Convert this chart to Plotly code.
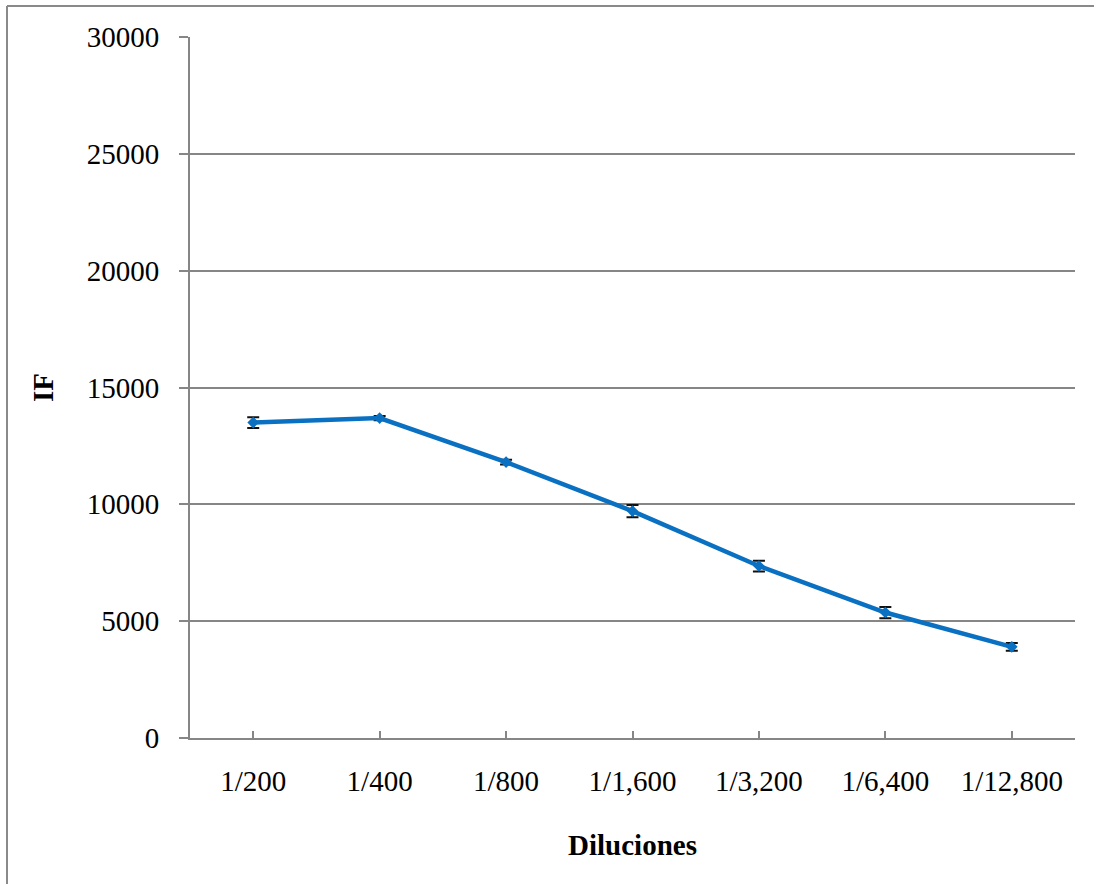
import plotly.graph_objects as go

# Dilution series and mean fluorescence intensity (IF) with error margins
diluciones = ["1/200", "1/400", "1/800", "1/1,600", "1/3,200", "1/6,400", "1/12,800"]
if_media = [13500, 13690, 11810, 9710, 7360, 5370, 3900]
if_error = [230, 90, 100, 260, 230, 240, 170]

y_ticks = [0, 5000, 10000, 15000, 20000, 25000, 30000]

W, H = 1094, 884
L, R, T, B = 190, 19, 37, 146

LINE_BLUE = "#0a70c2"
GRID = "#868686"
FONT = "Liberation Serif, DejaVu Serif, serif"
FS = 29

fig = go.Figure()

fig.add_trace(go.Scatter(
    x=diluciones,
    y=if_media,
    mode="lines+markers",
    line=dict(color=LINE_BLUE, width=4.5),
    marker=dict(symbol="diamond", size=9, color=LINE_BLUE),
    error_y=dict(type="data", array=if_error, visible=True,
                 color="#111111", thickness=2, width=6),
    showlegend=False,
))

# outer chart frame (top and left edges; the rest runs off the page)
pw = W - L - R
ph = H - T - B
fx = (7 - L) / pw
fy = (H - B - 6) / ph
fig.add_shape(type="line", xref="paper", yref="paper",
              x0=fx, x1=1.5, y0=fy, y1=fy,
              line=dict(color="#8a8a8a", width=2), layer="below")
fig.add_shape(type="line", xref="paper", yref="paper",
              x0=fx, x1=fx, y0=-0.5, y1=fy,
              line=dict(color="#8a8a8a", width=2), layer="below")

fig.update_layout(
    width=W, height=H,
    margin=dict(l=L, r=R, t=T, b=B),
    paper_bgcolor="white",
    plot_bgcolor="white",
    font=dict(family=FONT, size=FS, color="black"),
    xaxis=dict(
        type="category",
        range=[-0.5, 6.5],
        showgrid=False,
        showline=True, linecolor=GRID, linewidth=2,
        ticks="inside", ticklen=7, tickwidth=2, tickcolor=GRID,
        ticklabelstandoff=16,
        tickfont=dict(family=FONT, size=FS),
        title=dict(text="<b>Diluciones</b>", font=dict(family=FONT, size=FS),
                   standoff=39),
        zeroline=False,
    ),
    yaxis=dict(
        range=[0, 30000],
        tickvals=y_ticks,
        ticktext=[str(v) for v in y_ticks],
        showgrid=True, gridcolor=GRID, gridwidth=1.5,
        showline=True, linecolor=GRID, linewidth=2,
        ticks="outside", ticklen=9, tickwidth=1.5, tickcolor=GRID,
        ticklabelstandoff=14,
        tickfont=dict(family=FONT, size=FS),
        title=dict(text="<b>IF</b>", font=dict(family=FONT, size=FS),
                   standoff=25),
        zeroline=False,
    ),
)

fig.write_html("out.html", config={"displayModeBar": False})
